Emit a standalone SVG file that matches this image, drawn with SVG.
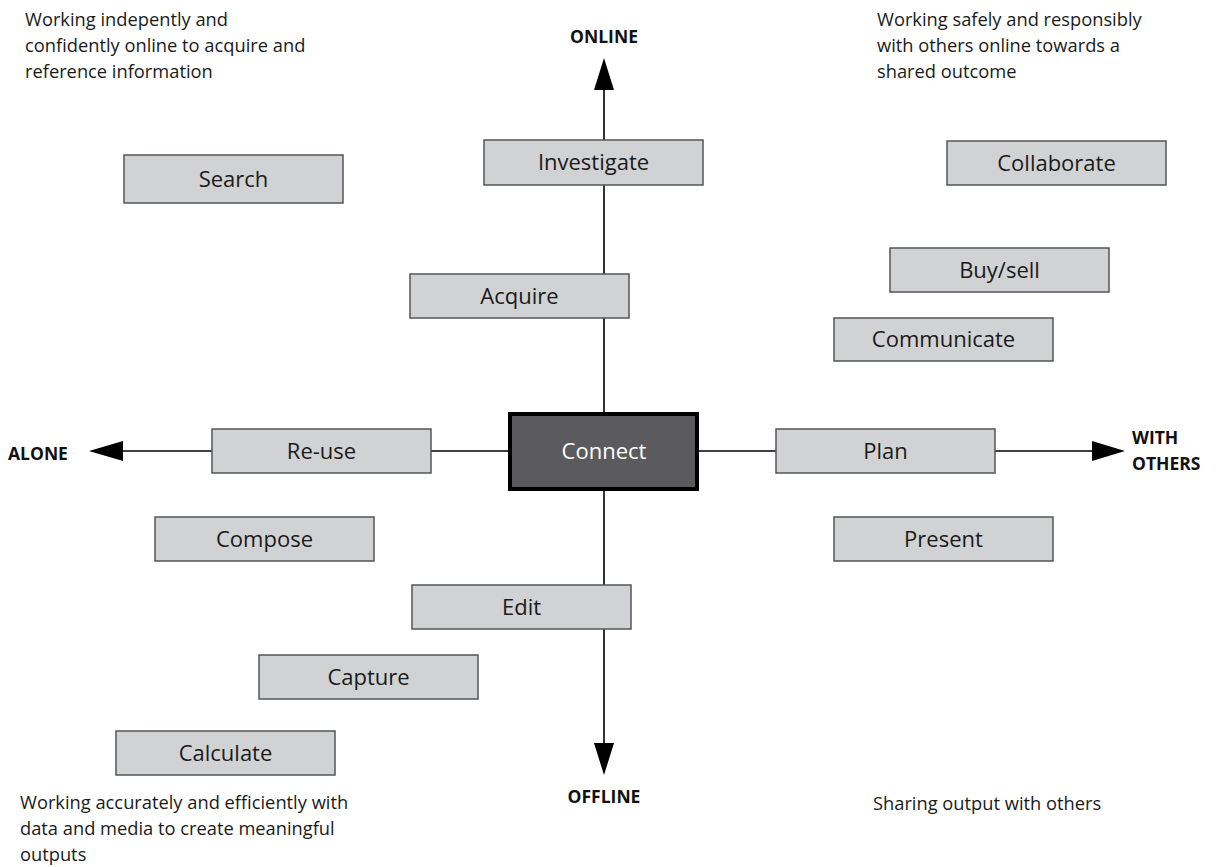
<svg xmlns="http://www.w3.org/2000/svg" width="1216" height="867" viewBox="0 0 1216 867">
<style>
.bg{fill:#ffffff}
.box{fill:#d1d2d4;stroke:#555557;stroke-width:1.5}
.lbl{font-family:"Open Sans","Liberation Sans",sans-serif;font-size:22px;fill:#1a1a1a;text-anchor:middle}
.note{font-family:"Open Sans","Liberation Sans",sans-serif;font-size:18.3px;fill:#1a1a1a}
.axis{font-family:"Open Sans","Liberation Sans",sans-serif;font-size:17.5px;font-weight:bold;fill:#111}
.ln{stroke:#000;stroke-width:1.6;fill:none}
.ah{fill:#000}
</style>
<rect class="bg" x="0" y="0" width="1216" height="867"/>
<g id="connectors">
<line class="ln" x1="604" y1="86" x2="604" y2="746"/>
<line class="ln" x1="120" y1="451" x2="1094" y2="451"/>
<polygon class="ah" points="604,58 594,90 614,90"/>
<polygon class="ah" points="604,775 594,743 614,743"/>
<polygon class="ah" points="89,451 123,441 123,461"/>
<polygon class="ah" points="1125,451 1092,441 1092,461"/>
</g>
<g id="notes">
<text class="note" x="25" y="26">Working indepently and</text>
<text class="note" x="25" y="52">confidently online to acquire and</text>
<text class="note" x="25" y="78">reference information</text>
<text class="note" x="877" y="26">Working safely and responsibly</text>
<text class="note" x="877" y="52">with others online towards a</text>
<text class="note" x="877" y="78">shared outcome</text>
<text class="note" x="20" y="809">Working accurately and efficiently with</text>
<text class="note" x="20" y="835">data and media to create meaningful</text>
<text class="note" x="20" y="861">outputs</text>
<text class="note" x="873" y="810">Sharing output with others</text>
</g>
<g id="axis-labels">
<text class="axis" x="604" y="43" text-anchor="middle">ONLINE</text>
<text class="axis" x="604" y="803" text-anchor="middle">OFFLINE</text>
<text class="axis" x="8" y="460">ALONE</text>
<text class="axis" x="1132" y="444">WITH</text>
<text class="axis" x="1132" y="470">OTHERS</text>
</g>
<g id="search"><rect class="box" x="124" y="155" width="219" height="48"/><text class="lbl" x="233.5" y="187">Search</text></g>
<g id="investigate"><rect class="box" x="484" y="140" width="219" height="45"/><text class="lbl" x="593.5" y="170">Investigate</text></g>
<g id="collaborate"><rect class="box" x="947" y="141" width="219" height="44"/><text class="lbl" x="1056.5" y="171">Collaborate</text></g>
<g id="buysell"><rect class="box" x="890" y="248" width="219" height="44"/><text class="lbl" x="999.5" y="278">Buy/sell</text></g>
<g id="acquire"><rect class="box" x="410" y="274" width="219" height="44"/><text class="lbl" x="519.5" y="304">Acquire</text></g>
<g id="communicate"><rect class="box" x="834" y="318" width="219" height="43"/><text class="lbl" x="943.5" y="347">Communicate</text></g>
<g id="reuse"><rect class="box" x="212" y="429" width="219" height="44"/><text class="lbl" x="321.5" y="459">Re-use</text></g>
<g id="plan"><rect class="box" x="776" y="429" width="219" height="44"/><text class="lbl" x="885.5" y="459">Plan</text></g>
<g id="compose"><rect class="box" x="155" y="517" width="219" height="44"/><text class="lbl" x="264.5" y="547">Compose</text></g>
<g id="present"><rect class="box" x="834" y="517" width="219" height="44"/><text class="lbl" x="943.5" y="547">Present</text></g>
<g id="edit"><rect class="box" x="412" y="585" width="219" height="44"/><text class="lbl" x="521.5" y="615">Edit</text></g>
<g id="capture"><rect class="box" x="259" y="655" width="219" height="44"/><text class="lbl" x="368.5" y="685">Capture</text></g>
<g id="calculate"><rect class="box" x="116" y="731" width="219" height="44"/><text class="lbl" x="225.5" y="761">Calculate</text></g>
<g id="connect"><rect x="510" y="414" width="187" height="75" fill="#5b5b5d" stroke="#000" stroke-width="4"/><text class="lbl" x="604" y="459" style="fill:#ffffff">Connect</text></g>
</svg>
